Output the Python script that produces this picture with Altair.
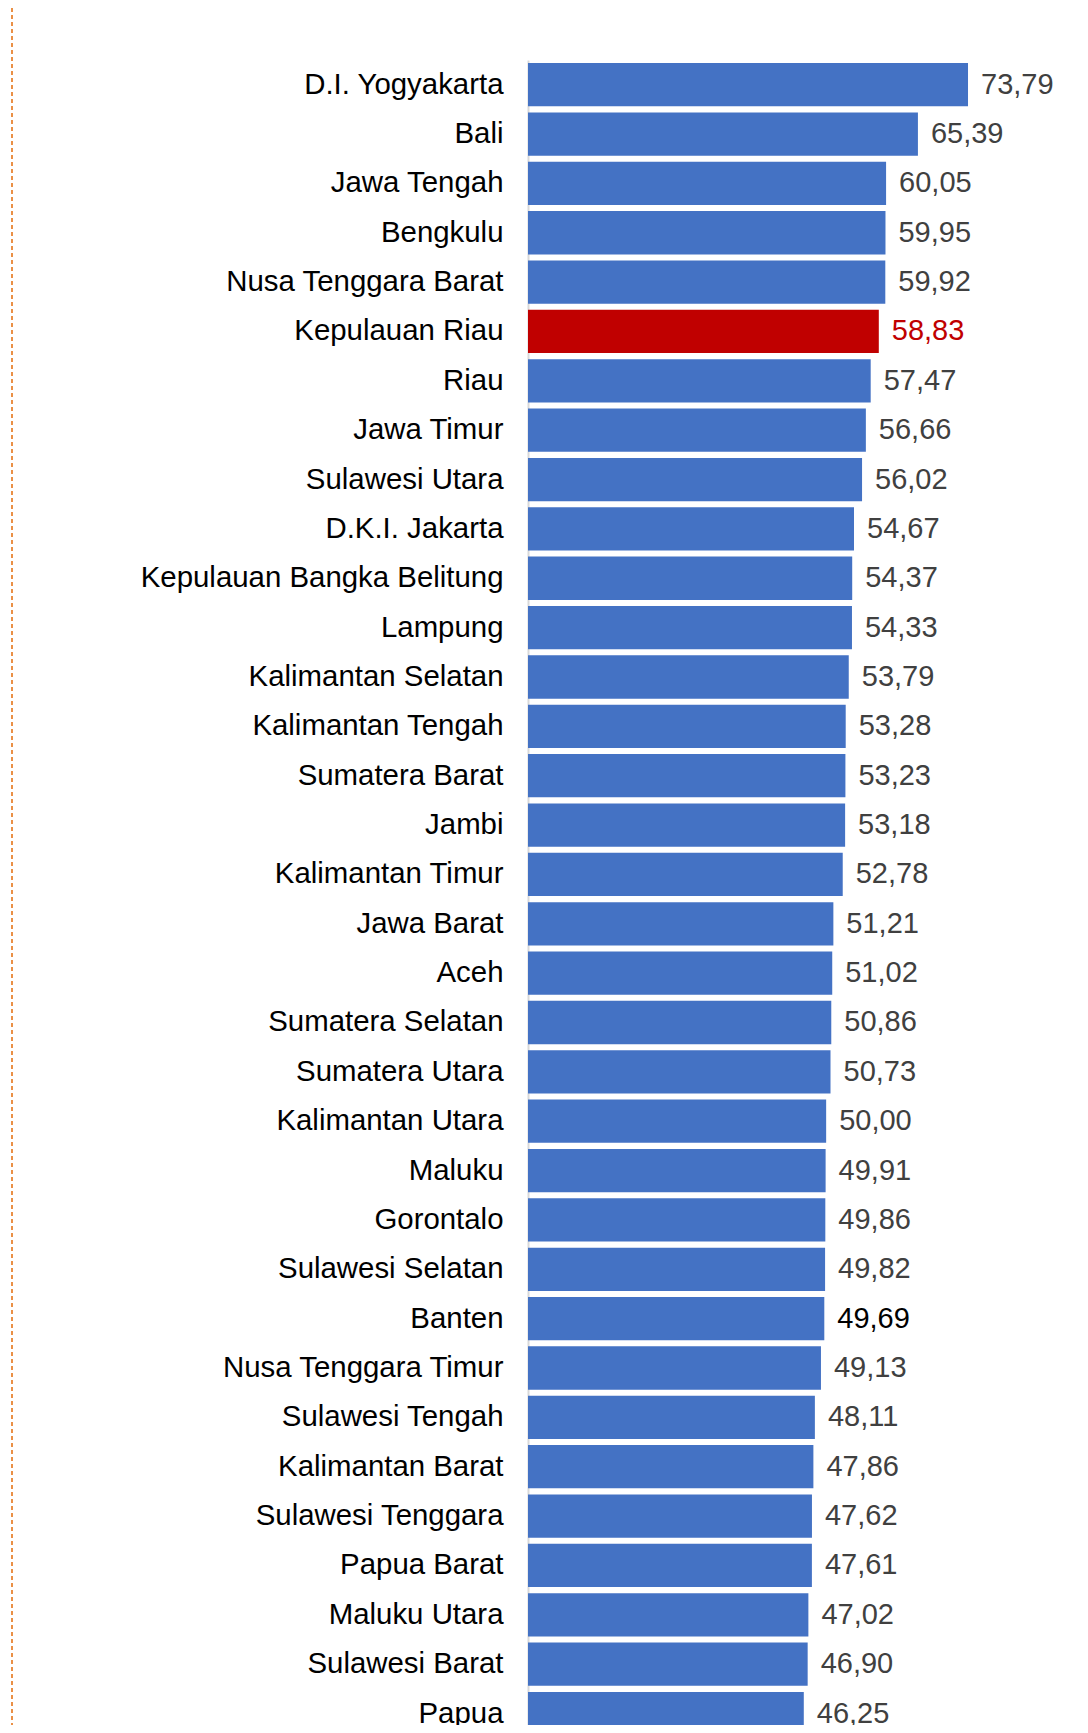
import altair as alt
import pandas as pd

provinces = [
    "D.I. Yogyakarta", "Bali", "Jawa Tengah", "Bengkulu", "Nusa Tenggara Barat",
    "Kepulauan Riau", "Riau", "Jawa Timur", "Sulawesi Utara", "D.K.I. Jakarta",
    "Kepulauan Bangka Belitung", "Lampung", "Kalimantan Selatan", "Kalimantan Tengah",
    "Sumatera Barat", "Jambi", "Kalimantan Timur", "Jawa Barat", "Aceh",
    "Sumatera Selatan", "Sumatera Utara", "Kalimantan Utara", "Maluku", "Gorontalo",
    "Sulawesi Selatan", "Banten", "Nusa Tenggara Timur", "Sulawesi Tengah",
    "Kalimantan Barat", "Sulawesi Tenggara", "Papua Barat", "Maluku Utara",
    "Sulawesi Barat", "Papua",
]
values = [
    73.79, 65.39, 60.05, 59.95, 59.92, 58.83, 57.47, 56.66, 56.02, 54.67,
    54.37, 54.33, 53.79, 53.28, 53.23, 53.18, 52.78, 51.21, 51.02, 50.86,
    50.73, 50.00, 49.91, 49.86, 49.82, 49.69, 49.13, 48.11, 47.86, 47.62,
    47.61, 47.02, 46.90, 46.25,
]
highlight = "Kepulauan Riau"
black_label = "Banten"

BLUE = "#4472C4"
RED = "#C00000"
GREY_TEXT = "#404040"

df = pd.DataFrame({"prov": provinces, "val": values})
df["label"] = [f"{v:.2f}".replace(".", ",") for v in values]
df["bar_color"] = [RED if p == highlight else BLUE for p in provinces]
df["text_color"] = [
    RED if p == highlight else ("#000000" if p == black_label else GREY_TEXT)
    for p in provinces
]

FONT = "Liberation Sans"
W, H = 500, 1665

y_enc = alt.Y(
    "prov:N",
    sort=None,
    scale=alt.Scale(paddingInner=0.123, paddingOuter=0.0615, range=[0, 1678.2]),
    axis=alt.Axis(
        title=None, ticks=False, tickSize=0, labelPadding=25,
        labelFontSize=29.4, labelFont=FONT, labelColor="#000000",
        domainColor="#D9D9D9", domainWidth=2, labelLimit=600,
    ),
)
x_enc = alt.X("val:Q", scale=alt.Scale(domain=[0, 83.85], nice=False), axis=None)

base = alt.Chart(df)
bars = base.mark_bar().encode(
    y=y_enc, x=x_enc, color=alt.Color("bar_color:N", scale=None)
)
texts = base.mark_text(
    align="left", baseline="middle", dx=13, fontSize=29, font=FONT
).encode(
    y=y_enc, x=x_enc, text="label:N", color=alt.Color("text_color:N", scale=None)
)
rule = alt.Chart(pd.DataFrame({"k": [0]})).mark_rule(
    color="#E36C0A", strokeDash=[4, 3], strokeWidth=1.5
).encode(
    x=alt.value(-516), y=alt.value(-52), y2=alt.value(H + 20)
)

chart = alt.layer(rule, bars, texts).properties(
    width=W, height=H,
    autosize=alt.AutoSizeParams(type="none"),
    padding={"left": 520, "top": 52, "right": 40, "bottom": 0},
    background="white",
).configure_view(strokeWidth=0, stroke=None)

chart.save("out.html", embed_options={"renderer": "svg", "actions": False})
